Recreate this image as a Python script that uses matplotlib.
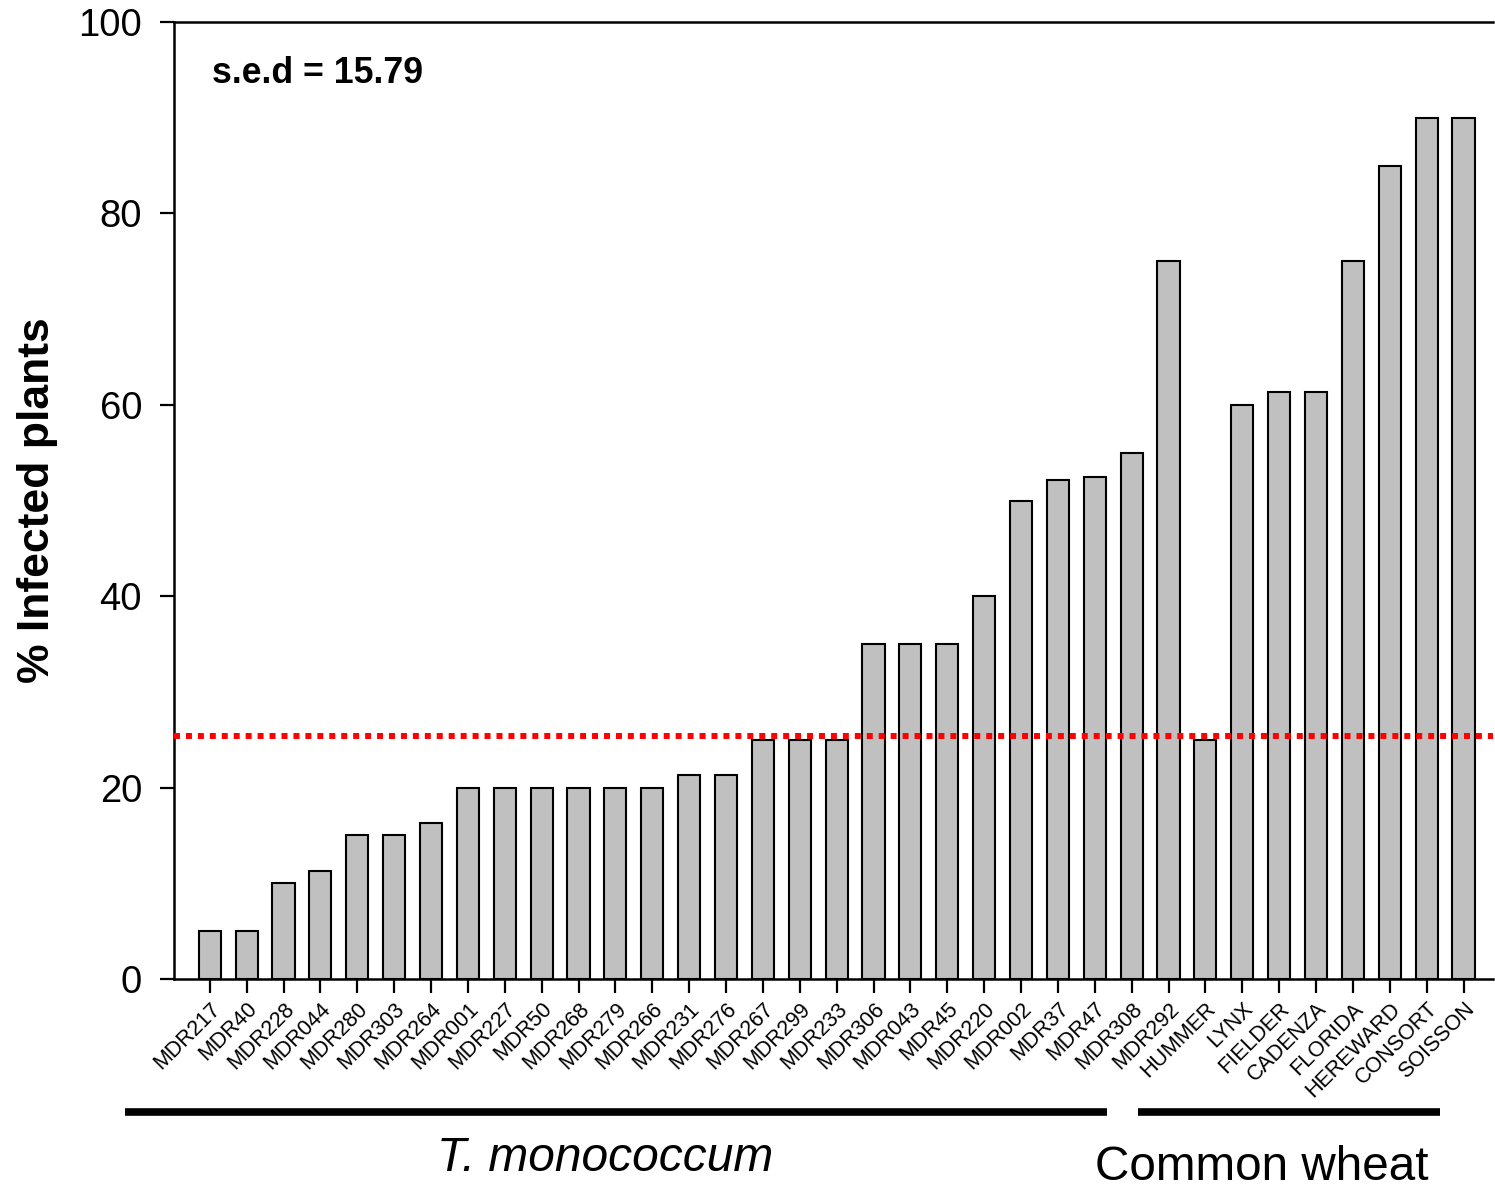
import matplotlib
matplotlib.use("Agg")
import matplotlib.pyplot as plt
from matplotlib.lines import Line2D

plt.rcParams['font.family'] = ['Liberation Sans', 'DejaVu Sans']

# lines / cultivars, sorted as in the figure
lines = ['MDR217', 'MDR40', 'MDR228', 'MDR044', 'MDR280', 'MDR303', 'MDR264',
         'MDR001', 'MDR227', 'MDR50', 'MDR268', 'MDR279', 'MDR266', 'MDR231',
         'MDR276', 'MDR267', 'MDR299', 'MDR233', 'MDR306', 'MDR043', 'MDR45',
         'MDR220', 'MDR002', 'MDR37', 'MDR47', 'MDR308', 'MDR292', 'HUMMER',
         'LYNX', 'FIELDER', 'CADENZA', 'FLORIDA', 'HEREWARD', 'CONSORT', 'SOISSON']
infected = [5, 5, 10, 11.3, 15, 15, 16.3,
            20, 20, 20, 20, 20, 20, 21.3,
            21.3, 25, 25, 25, 35, 35, 35,
            40, 50, 52.1, 52.5, 55, 75, 25,
            60, 61.3, 61.3, 75, 85, 90, 90]
threshold = 25.4
sed_text = 's.e.d = 15.79'

fig = plt.figure(figsize=(14.95, 11.89), dpi=100)
ax = fig.add_axes([0.1164, 0.1766, 0.8823, 0.8049])

x = range(len(lines))
ax.bar(x, infected, width=0.6, color='#c0c0c0', edgecolor='black', linewidth=1.5, zorder=2)
ax.axhline(threshold, color='#ff0000', linewidth=4.3, linestyle=(0, (1, 1)), zorder=3)

ax.set_xlim(-0.97, 34.8)
ax.set_ylim(0, 100)
ax.set_yticks([0, 20, 40, 60, 80, 100])
ax.set_xticks(list(x))
ax.set_xticklabels(lines, rotation=45, ha='right', rotation_mode='anchor', fontsize=15.5)
ax.tick_params(axis='y', direction='out', length=10, width=1.6, labelsize=27.5, pad=13)
ax.tick_params(axis='x', direction='out', length=10, width=1.6, pad=4)

for s in ['left', 'bottom', 'top']:
    ax.spines[s].set_linewidth(1.8)
ax.spines['right'].set_visible(False)

ax.set_ylabel('% Infected plants', fontsize=32, fontweight='bold')
ax.yaxis.set_label_coords(-0.088, 0.5)
ax.text(0.0288, 0.946, sed_text, transform=ax.transAxes, fontsize=25.7,
        fontweight='bold', ha='left', va='center')

# group bars under the x labels
fig.add_artist(Line2D([125 / 1495, 1107 / 1495], [0.0648, 0.0648], color='black',
                      linewidth=5.5, solid_capstyle='butt'))
fig.add_artist(Line2D([1138 / 1495, 1440 / 1495], [0.0648, 0.0648], color='black',
                      linewidth=5.5, solid_capstyle='butt'))
fig.text(605 / 1495, 0.026, 'T. monococcum', fontsize=34.5, fontstyle='italic', ha='center', va='center')
fig.text(1262 / 1495, 0.0177, 'Common wheat', fontsize=34.3, ha='center', va='center')

plt.savefig('out.png', dpi=100)
